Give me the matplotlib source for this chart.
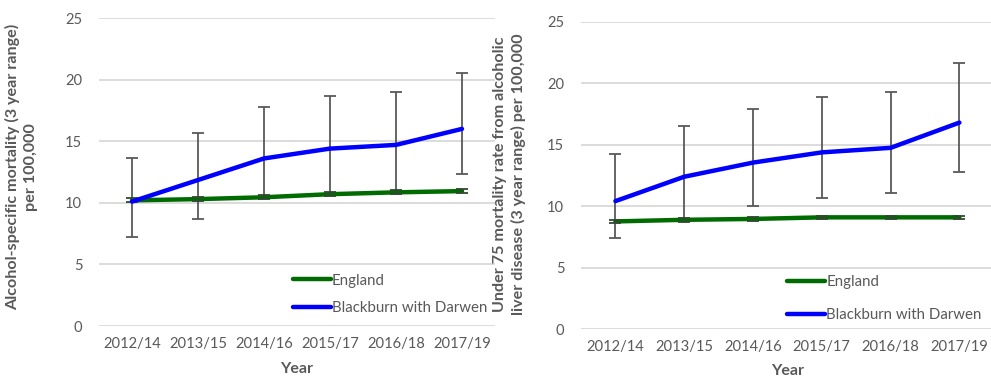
import numpy as np
import matplotlib
matplotlib.use('Agg')
import matplotlib.pyplot as plt

plt.rcParams['font.family'] = ['Lato', 'DejaVu Sans']

years = ['2012/14', '2013/15', '2014/16', '2015/17', '2016/18', '2017/19']

# Alcohol-specific mortality per 100,000
spec_eng = [10.2, 10.3, 10.45, 10.7, 10.85, 10.95]
spec_eng_lo = [10.05, 10.15, 10.3, 10.55, 10.7, 10.8]
spec_eng_hi = [10.35, 10.45, 10.6, 10.85, 11.0, 11.1]
spec_bwd = [10.1, 11.85, 13.6, 14.4, 14.7, 16.0]
spec_bwd_lo = [7.2, 8.7, 10.4, 10.75, 10.9, 12.3]
spec_bwd_hi = [13.65, 15.65, 17.75, 18.7, 19.0, 20.5]

# Under 75 mortality from alcoholic liver disease per 100,000
liver_eng = [8.77, 8.9, 8.97, 9.1, 9.1, 9.1]
liver_eng_lo = [8.62, 8.75, 8.82, 8.95, 8.95, 8.95]
liver_eng_hi = [8.92, 9.05, 9.12, 9.25, 9.25, 9.25]
liver_bwd = [10.42, 12.4, 13.55, 14.38, 14.75, 16.8]
liver_bwd_lo = [7.42, 8.9, 10.05, 10.67, 11.05, 12.8]
liver_bwd_hi = [14.27, 16.55, 17.9, 18.85, 19.28, 21.65]

GREEN = '#006b00'
BLUE = '#0000ff'
GREY = '#595959'


def draw_panel(ax, eng, eng_lo, eng_hi, bwd, bwd_lo, bwd_hi, ylabel, ylab_xy,
               leg_anchor, leg_spacing, xlab_pad):
    x = np.arange(len(years))
    eng = np.array(eng)
    bwd = np.array(bwd)
    ax.errorbar(x, bwd, yerr=[bwd - np.array(bwd_lo), np.array(bwd_hi) - bwd],
                fmt='none', ecolor=GREY, elinewidth=1.3, capsize=4,
                capthick=1.3, zorder=2)
    ax.plot(x, eng, color=GREEN, lw=3.2, label='England', zorder=3,
            solid_capstyle='round')
    ax.errorbar(x, eng, yerr=[eng - np.array(eng_lo), np.array(eng_hi) - eng],
                fmt='none', ecolor='#2e4a2e', elinewidth=1.3, capsize=4,
                capthick=1.3, zorder=3)
    ax.plot(x, bwd, color=BLUE, lw=3.2, label='Blackburn with Darwen',
            zorder=4, solid_capstyle='round')

    ax.set_xlim(-0.5, len(years) - 0.5)
    ax.set_ylim(0, 25)
    ax.set_yticks([0, 5, 10, 15, 20, 25])
    ax.set_xticks(x)
    ax.set_xticklabels(years)
    ax.grid(axis='y', color='#d9d9d9', lw=1.3)
    ax.set_axisbelow(True)
    for s in ax.spines.values():
        s.set_visible(False)
    ax.tick_params(length=0, labelsize=10.6, colors=GREY, pad=8)
    ax.tick_params(axis='y', pad=12)

    ax.set_ylabel(ylabel, fontsize=11.6, fontweight='bold', color=GREY,
                  linespacing=1.3)
    ax.yaxis.set_label_coords(*ylab_xy)
    ax.set_xlabel('Year', fontsize=11.5, fontweight='bold', color=GREY,
                  labelpad=xlab_pad)

    leg = ax.legend(loc='upper left', bbox_to_anchor=leg_anchor, frameon=False,
                    fontsize=10.8, handlelength=2.5, handletextpad=0.1,
                    labelspacing=leg_spacing, borderpad=0, borderaxespad=0)
    for t in leg.get_texts():
        t.set_color(GREY)


fig = plt.figure(figsize=(9.91, 3.79), dpi=100)
ax1 = fig.add_axes([0.0999, 0.1398, 0.3996, 0.8127])
ax2 = fig.add_axes([0.5863, 0.1311, 0.4165, 0.8116])

draw_panel(ax1, spec_eng, spec_eng_lo, spec_eng_hi,
           spec_bwd, spec_bwd_lo, spec_bwd_hi,
           'Alcohol-specific mortality (3 year range)\nper 100,000',
           (-0.155, 0.516), (0.49, 0.17), 0.9, 8)
draw_panel(ax2, liver_eng, liver_eng_lo, liver_eng_hi,
           liver_bwd, liver_bwd_lo, liver_bwd_hi,
           'Under 75 mortality rate from alcoholic\nliver disease (3 year range) per 100,000',
           (-0.134, 0.505), (0.5, 0.177), 1.3, 7)

fig.savefig('out.png', dpi=100)
